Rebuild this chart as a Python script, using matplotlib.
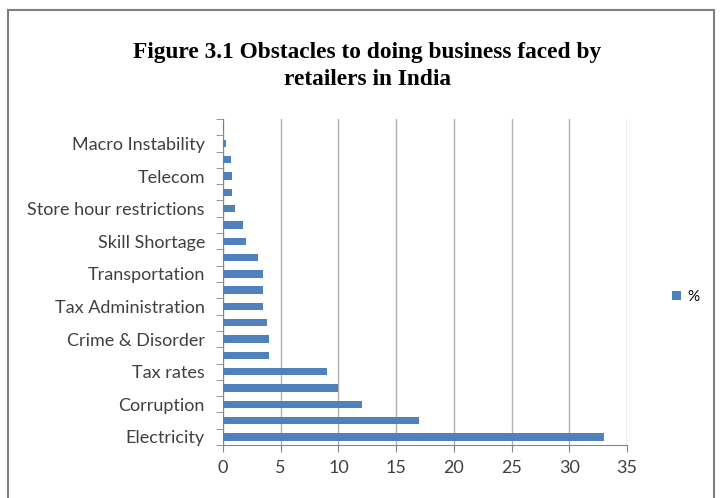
import matplotlib
matplotlib.use("Agg")
import matplotlib.pyplot as plt
import numpy as np
from matplotlib.patches import Rectangle

# categories bottom -> top; only every other label is shown in the source chart
labels = ['Electricity', '', 'Corruption', '', 'Tax rates', '', 'Crime & Disorder', '',
          'Tax Administration', '', 'Transportation', '', 'Skill Shortage', '',
          'Store hour restrictions', '', 'Telecom', '', 'Macro Instability', '']
values = [33, 17, 12, 10, 9, 4, 4, 3.8, 3.5, 3.5, 3.5, 3, 2, 1.7, 1, 0.8, 0.8, 0.7, 0.3, 0.1]
x_ticks = [0, 5, 10, 15, 20, 25, 30, 35]
series_name = '%'
title = 'Figure 3.1 Obstacles to doing business faced by\nretailers in India'

bar_color = '#4F81BD'
label_font = 'Lato'

fig = plt.figure(figsize=(7.22, 4.98), dpi=100)
ax = fig.add_axes([223 / 722, 1 - 445 / 498, 404 / 722, 326 / 498])

pos = np.arange(len(values))
ax.barh(pos, values, height=0.45, color=bar_color, zorder=3,
        label=series_name)

ax.set_xlim(0, 35)
ax.set_ylim(-0.5, len(values) - 0.5)
ax.set_xticks(x_ticks)
ax.set_xticklabels([str(t) for t in x_ticks], fontsize=13, family=label_font,
                   color='#404040')
ax.set_yticks(pos)
ax.set_yticklabels(labels, fontsize=13, family=label_font, color='#404040')
ax.set_yticks(np.arange(len(values) + 1) - 0.5, minor=True)
ax.tick_params(axis='y', which='major', length=0, pad=13)
ax.tick_params(axis='y', which='minor', length=5, color='#868686', direction='out')
ax.tick_params(axis='x', length=5, color='#868686', direction='out', pad=6)

ax.grid(axis='x', color='#B0B0B0', linewidth=1, zorder=0)
for side in ['top', 'right']:
    ax.spines[side].set_visible(False)
ax.spines['left'].set_color('#868686')
ax.spines['bottom'].set_color('#868686')

fig.text(367 / 722, 1 - 66 / 498, title, ha='center', va='center',
         family='Liberation Serif', fontweight='bold', fontsize=16.8,
         linespacing=1.42)

# legend at right
fig.legend(loc='center left', bbox_to_anchor=(658 / 722, 1 - 297 / 498),
           frameon=False, handlelength=0.6, handleheight=0.6,
           handletextpad=0.4, prop={'family': label_font, 'size': 11})

# chart area border
fig.patches.append(Rectangle((8 / 722, -0.01), 706 / 722, 1 - 10 / 498 + 0.01,
                             transform=fig.transFigure, fill=False,
                             edgecolor='#7F7F7F', linewidth=1.5))

fig.savefig('out.png', dpi=100)
